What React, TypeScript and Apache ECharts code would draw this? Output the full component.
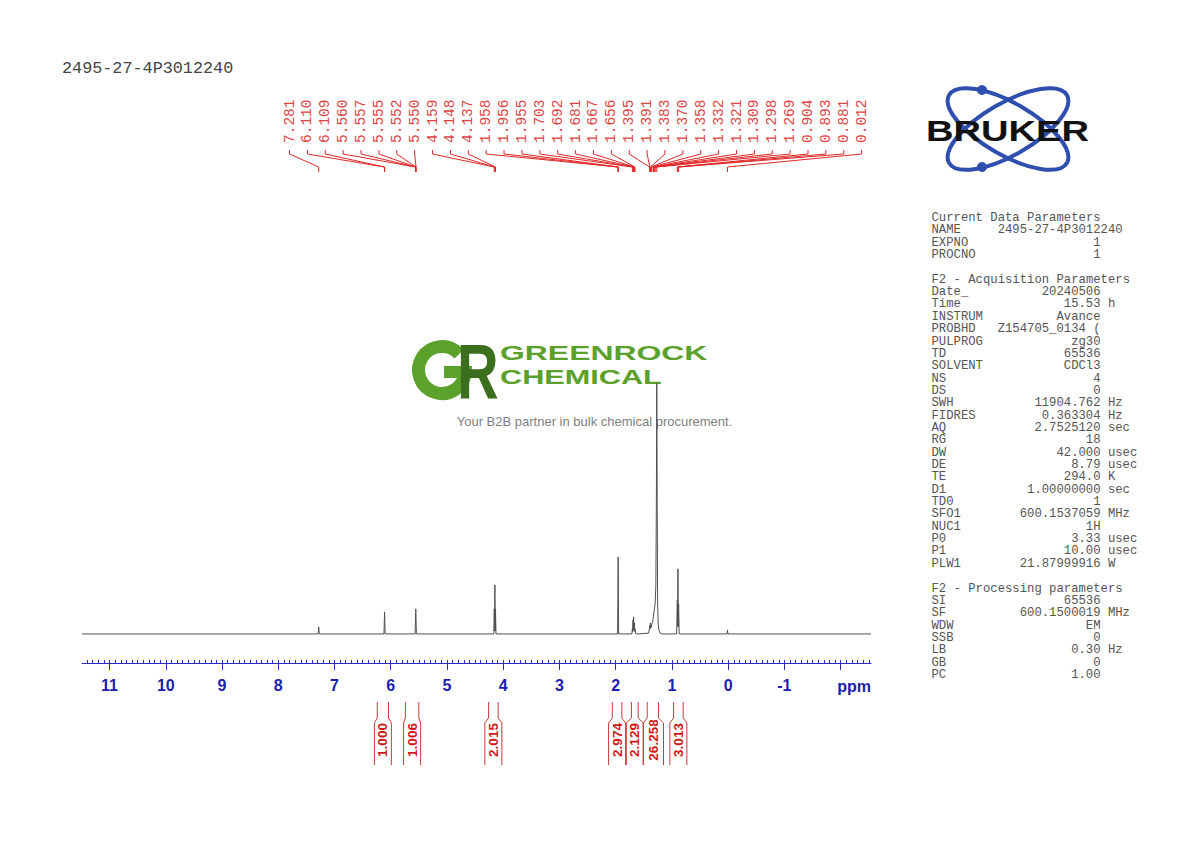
import { useEffect, useRef } from 'react';
import * as echarts from 'echarts';

const sampleName = '2495-27-4P3012240';

// chemical shift axis (ppm), drawn right-to-left
const ppmMin = -2.54;
const ppmMax = 11.49;
const majorTicks = [-2, -1, 0, 1, 2, 3, 4, 5, 6, 7, 8, 9, 10, 11];
const tickLabels = [-1, 0, 1, 2, 3, 4, 5, 6, 7, 8, 9, 10, 11];

// spectrum trace: [ppm, relative intensity] (tallest = 100)
const spectrumPoints: [number, number][] = [
    [11.49, 0],
    [7.29, 0], [7.281, 2.8], [7.272, 0],
    [6.12, 0], [6.11, 8.8], [6.109, 8.2], [6.099, 0],
    [5.566, 0], [5.56, 6], [5.557, 8.5], [5.555, 10], [5.552, 8.5], [5.55, 6], [5.544, 0],
    [4.167, 0], [4.159, 10], [4.154, 1.2], [4.148, 19.6], [4.142, 1.2], [4.137, 10], [4.129, 0],
    [1.966, 0], [1.958, 24], [1.956, 30.7], [1.955, 27], [1.947, 0],
    [1.712, 0], [1.703, 2.2], [1.697, 0.8], [1.692, 5.6], [1.686, 1.6], [1.681, 6.8],
    [1.674, 1.5], [1.667, 4.4], [1.661, 1], [1.656, 2], [1.646, 0.2],
    [1.6, 0], [1.42, 0.3], [1.395, 2.4], [1.391, 3.4], [1.387, 2], [1.383, 4.4], [1.377, 2.4],
    [1.37, 3.4], [1.364, 2.8], [1.358, 4], [1.345, 4.6], [1.332, 6.6], [1.321, 8.4],
    [1.309, 10.4], [1.298, 12], [1.286, 19], [1.276, 55], [1.269, 100], [1.262, 52],
    [1.254, 12], [1.244, 4], [1.232, 1.5], [1.21, 0.4], [1.17, 0],
    [0.916, 0], [0.904, 13.5], [0.899, 3], [0.893, 26], [0.887, 3], [0.881, 12], [0.871, 0],
    [0.02, 0], [0.012, 1.6], [0.004, 0],
    [-2.54, 0],
];

// peak picking labels
const peakLabels = [
    '7.281', '6.110', '6.109', '5.560', '5.557', '5.555', '5.552', '5.550',
    '4.159', '4.148', '4.137', '1.958', '1.956', '1.955', '1.703', '1.692',
    '1.681', '1.667', '1.656', '1.395', '1.391', '1.383', '1.370', '1.358',
    '1.332', '1.321', '1.309', '1.298', '1.269', '0.904', '0.893', '0.881', '0.012',
];

// integration regions [from ppm, to ppm] and their values
const integralRanges: [number, number][] = [
    [6.24, 6.04], [5.74, 5.5], [4.26, 4.09], [2.06, 1.89], [1.72, 1.6], [1.44, 1.24], [0.97, 0.8],
];
const integralValues = ['1.000', '1.006', '2.015', '2.974', '2.129', '26.258', '3.013'];

// parameter block
const currentParams: [string, string, string][] = [
    ['NAME', '2495-27-4P3012240', ''],
    ['EXPNO', '1', ''],
    ['PROCNO', '1', ''],
];
const acqParams: [string, string, string][] = [
    ['Date_', '20240506', ''],
    ['Time', '15.53', 'h'],
    ['INSTRUM', 'Avance', ''],
    ['PROBHD', 'Z154705_0134 (', ''],
    ['PULPROG', 'zg30', ''],
    ['TD', '65536', ''],
    ['SOLVENT', 'CDCl3', ''],
    ['NS', '4', ''],
    ['DS', '0', ''],
    ['SWH', '11904.762', 'Hz'],
    ['FIDRES', '0.363304', 'Hz'],
    ['AQ', '2.7525120', 'sec'],
    ['RG', '18', ''],
    ['DW', '42.000', 'usec'],
    ['DE', '8.79', 'usec'],
    ['TE', '294.0', 'K'],
    ['D1', '1.00000000', 'sec'],
    ['TD0', '1', ''],
    ['SFO1', '600.1537059', 'MHz'],
    ['NUC1', '1H', ''],
    ['P0', '3.33', 'usec'],
    ['P1', '10.00', 'usec'],
    ['PLW1', '21.87999916', 'W'],
];
const procParams: [string, string, string][] = [
    ['SI', '65536', ''],
    ['SF', '600.1500019', 'MHz'],
    ['WDW', 'EM', ''],
    ['SSB', '0', ''],
    ['LB', '0.30', 'Hz'],
    ['GB', '0', ''],
    ['PC', '1.00', ''],
];

const MONO = '"Liberation Mono", "DejaVu Sans Mono", monospace';
const SANS = '"Liberation Sans", Arial, sans-serif';
const AXIS_BLUE = '#2b2bc0';
const LABEL_RED = '#dd4545';
const LINE_RED = '#e02828';

function buildParamTable() {
    const x0 = 931.5;
    const cw = 7.35;
    const y0 = 218;
    const lh = 12.35;
    const els: any[] = [];
    const txt = (text: string, x: number, y: number, align: string) => ({
        type: 'text',
        x,
        y,
        style: {
            text,
            fontSize: 12.25,
            fontFamily: MONO,
            fill: '#555',
            align,
            textAlign: align,
            verticalAlign: 'middle',
            textVerticalAlign: 'middle',
        },
    });
    const block = (title: string, rows: [string, string, string][], start: number) => {
        els.push(txt(title, x0, y0 + start * lh, 'left'));
        rows.forEach(([name, value, unit], i) => {
            const y = y0 + (start + 1 + i) * lh;
            els.push(txt(name, x0, y, 'left'));
            if (value.length > 14) els.push(txt(value, x0 + 9 * cw, y, 'left'));
            else els.push(txt(value, x0 + 23 * cw, y, 'right'));
            if (unit) els.push(txt(unit, x0 + 24 * cw, y, 'left'));
        });
    };
    block('Current Data Parameters', currentParams, 0);
    block('F2 - Acquisition Parameters', acqParams, 5);
    block('F2 - Processing parameters', procParams, 30);
    return els;
}

function buildLogos() {
    const orbit = '#2f4fae';
    const green = '#5ba12c';
    return [
        // Bruker
        {
            type: 'ellipse', x: 1008, y: 129, rotation: -0.524,
            shape: { cx: 0, cy: 0, rx: 68, ry: 26 },
            style: { fill: 'none', stroke: orbit, lineWidth: 4 },
        },
        {
            type: 'ellipse', x: 1008, y: 129, rotation: 0.524,
            shape: { cx: 0, cy: 0, rx: 68, ry: 26 },
            style: { fill: 'none', stroke: orbit, lineWidth: 4 },
        },
        { type: 'circle', shape: { cx: 982, cy: 90, r: 5 }, style: { fill: orbit } },
        { type: 'circle', shape: { cx: 982, cy: 167, r: 5 }, style: { fill: orbit } },
        {
            type: 'text', x: 1007.5, y: 131, scaleX: 1.27,
            style: {
                text: 'BRUKER', fontSize: 30, fontWeight: 'bold', fontFamily: SANS, fill: '#111',
                align: 'center', textAlign: 'center', verticalAlign: 'middle', textVerticalAlign: 'middle',
            },
        },
        // Greenrock
        {
            type: 'arc',
            shape: { cx: 442, cy: 370, r: 23.5, startAngle: 0.05, endAngle: Math.PI * 2 - 0.75, clockwise: true },
            style: { fill: 'none', stroke: green, lineWidth: 13 },
        },
        { type: 'rect', shape: { x: 444, y: 366, width: 28, height: 12 }, style: { fill: green } },
        {
            type: 'text', x: 457, y: 371, scaleX: 0.74,
            style: {
                text: 'R', fontSize: 78, fontWeight: 'bold', fontFamily: SANS, fill: '#3c6e1f',
                align: 'left', textAlign: 'left', verticalAlign: 'middle', textVerticalAlign: 'middle',
            },
        },
        {
            type: 'text', x: 500, y: 353, scaleX: 1.52,
            style: {
                text: 'GREENROCK', fontSize: 21, fontWeight: 'bold', fontFamily: SANS, fill: green,
                align: 'left', textAlign: 'left', verticalAlign: 'middle', textVerticalAlign: 'middle',
            },
        },
        {
            type: 'text', x: 500, y: 377, scaleX: 1.46,
            style: {
                text: 'CHEMICAL', fontSize: 21, fontWeight: 'bold', fontFamily: SANS, fill: green,
                align: 'left', textAlign: 'left', verticalAlign: 'middle', textVerticalAlign: 'middle',
            },
        },
        {
            type: 'text', x: 594.5, y: 421,
            style: {
                text: 'Your B2B partner in bulk chemical procurement.', fontSize: 13, fontFamily: SANS, fill: '#808080',
                align: 'center', textAlign: 'center', verticalAlign: 'middle', textVerticalAlign: 'middle',
            },
        },
    ];
}

export default function App() {
    const chartRef = useRef<HTMLDivElement>(null);

    useEffect(() => {
        if (!chartRef.current) return;
        const chart = echarts.init(chartRef.current, null, { renderer: 'svg' });

        const minorTicks: number[] = [];
        for (let k = -25; k <= 114; k++) minorTicks.push(Math.round(k) / 10);

        const axisBase = {
            type: 'value',
            min: ppmMin,
            max: ppmMax,
            inverse: true,
            position: 'bottom',
            splitLine: { show: false },
        };

        const option = {
            animation: false,
            backgroundColor: '#fff',
            grid: { left: 82, right: 319, top: 183, bottom: 179 },
            xAxis: [
                {
                    ...axisBase,
                    axisLine: { show: true, onZero: false, lineStyle: { color: AXIS_BLUE, width: 1 } },
                    axisTick: {
                        show: true, length: 7, inside: false, customValues: majorTicks,
                        lineStyle: { color: AXIS_BLUE, width: 1 },
                    },
                    axisLabel: {
                        show: true, customValues: tickLabels, margin: 14,
                        color: '#1d1db0', fontSize: 16, fontWeight: 'bold', fontFamily: SANS,
                    },
                },
                {
                    ...axisBase,
                    axisLine: { show: false, onZero: false },
                    axisTick: {
                        show: true, length: 3, inside: true, customValues: minorTicks,
                        lineStyle: { color: AXIS_BLUE, width: 1 },
                    },
                    axisLabel: { show: false },
                },
            ],
            yAxis: { type: 'value', min: -11.6, max: 180, show: false },
            graphic: {
                elements: [
                    {
                        type: 'text', x: 62, y: 68,
                        style: {
                            text: sampleName, fontSize: 16.8, fontFamily: MONO, fill: '#444',
                            align: 'left', textAlign: 'left', verticalAlign: 'middle', textVerticalAlign: 'middle',
                        },
                    },
                    {
                        type: 'text', x: 871, y: 686,
                        style: {
                            text: 'ppm', fontSize: 16, fontWeight: 'bold', fontFamily: SANS, fill: '#1d1db0',
                            align: 'right', textAlign: 'right', verticalAlign: 'middle', textVerticalAlign: 'middle',
                        },
                    },
                    ...buildParamTable(),
                    ...buildLogos(),
                ],
            },
            series: [
                {
                    type: 'line',
                    data: spectrumPoints,
                    showSymbol: false,
                    silent: true,
                    lineStyle: { color: '#505050', width: 1 },
                    z: 3,
                },
                {
                    // peak picking labels with leader lines
                    type: 'custom',
                    clip: false,
                    silent: true,
                    data: [[0, 0]],
                    renderItem: (_params: any, api: any) => {
                        const left = 289.5;
                        const step = 17.88;
                        const children: any[] = [];
                        peakLabels.forEach((label, i) => {
                            const px = api.coord([parseFloat(label), 0])[0];
                            const lx = left + i * step;
                            children.push({
                                type: 'text', x: lx, y: 143, rotation: Math.PI / 2,
                                style: {
                                    text: label, fontSize: 14.5, fontFamily: MONO, fill: LABEL_RED,
                                    align: 'left', textAlign: 'left', verticalAlign: 'middle', textVerticalAlign: 'middle',
                                },
                            });
                            children.push({
                                type: 'polyline',
                                shape: { points: [[lx, 150], [lx, 154], [px, 167], [px, 172]] },
                                style: { fill: 'none', stroke: LINE_RED, lineWidth: 1 },
                            });
                        });
                        return { type: 'group', children };
                    },
                },
                {
                    // integral brackets
                    type: 'custom',
                    clip: false,
                    silent: true,
                    data: [[0, 0]],
                    renderItem: (_params: any, api: any) => {
                        const children: any[] = [];
                        let prevRight = -Infinity;
                        integralRanges.forEach(([from, to], i) => {
                            const xa = api.coord([from, 0])[0];
                            const xb = api.coord([to, 0])[0];
                            const label = integralValues[i];
                            const w = 3.2 * label.length + 1;
                            let c = (xa + xb) / 2;
                            if (c - w / 2 < prevRight) c = prevRight + w / 2;
                            const bl = c - w / 2;
                            const br = c + w / 2;
                            prevRight = br;
                            const st = { fill: 'none', stroke: '#c83a3a', lineWidth: 1 };
                            children.push({
                                type: 'polyline',
                                shape: { points: [[xa, 702], [xa, 718], [bl, 723], [bl, 765]] },
                                style: st,
                            });
                            children.push({
                                type: 'polyline',
                                shape: { points: [[xb, 702], [xb, 718], [br, 723], [br, 765]] },
                                style: st,
                            });
                            children.push({
                                type: 'text', x: c, y: 740, rotation: Math.PI / 2,
                                style: {
                                    text: label, fontSize: 13.5, fontWeight: 'bold', fontFamily: SANS, fill: '#d01818',
                                    align: 'center', textAlign: 'center', verticalAlign: 'middle', textVerticalAlign: 'middle',
                                },
                            });
                        });
                        return { type: 'group', children };
                    },
                },
            ],
        };

        chart.setOption(option as any);

        return () => {
            chart.dispose();
        };
    }, []);

    return (
        <div
            ref={chartRef}
            style={{ position: 'fixed', left: 0, top: 0, width: 1190, height: 842, background: '#fff' }}
        />
    );
}
